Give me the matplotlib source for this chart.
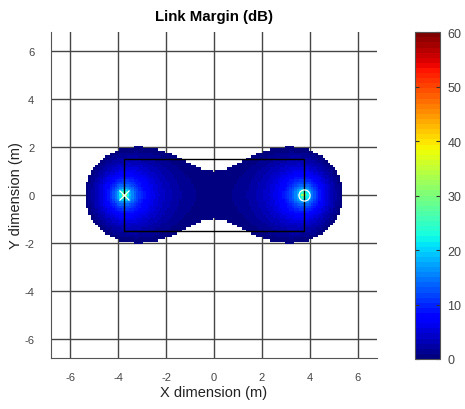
import numpy as np
import matplotlib
matplotlib.use("Agg")
import matplotlib.pyplot as plt
from matplotlib.patches import Rectangle

plt.rcParams['font.family'] = ['Liberation Sans', 'DejaVu Sans']
plt.rcParams['axes.unicode_minus'] = False

# scene
tx_pos = (-3.75, 0.0)          # transmitter (x marker)
rx_pos = (3.75, 0.0)           # receiver (o marker)
room = (-3.75, -1.5, 7.5, 3.0)  # x, y, width, height
grid_step = 0.1
lim = 6.8

# link budget: margin = K - 10*n*log10(d_tx * d_rx), 0 dB where d_tx*d_rx = 15.06
path_exp = 2.0
range_product = 15.06
cticks = [0, 10, 20, 30, 40, 50, 60]
ticks = [-6, -4, -2, 0, 2, 4, 6]

edges = np.arange(-lim + 0.05, lim, grid_step)
centers = (edges[:-1] + edges[1:]) / 2
X, Y = np.meshgrid(centers, centers)
d1 = np.hypot(X - tx_pos[0], Y - tx_pos[1])
d2 = np.hypot(X - rx_pos[0], Y - rx_pos[1])
margin = 10 * path_exp * np.log10(range_product / (d1 * d2))
margin = np.ma.masked_less(margin, 0)

fig = plt.figure(figsize=(4.65, 4.10), dpi=100)
ax = fig.add_axes([0.1097, 0.1244, 0.701, 0.795])
cax = fig.add_axes([0.892, 0.122, 0.0553, 0.797])

cmap = plt.get_cmap('jet', 64)
mesh = ax.pcolormesh(edges, edges, margin, cmap=cmap, vmin=0, vmax=60, zorder=1)

ax.add_patch(Rectangle(room[:2], room[2], room[3], fill=False,
                       edgecolor='black', linewidth=1.0, zorder=3))
ax.plot(*tx_pos, marker='x', color='white', markersize=7.5, mew=0.9, zorder=4)
ax.plot(*rx_pos, marker='o', mfc='none', mec='white', markersize=8, mew=0.9, zorder=4)

ax.set_xlim(-lim, lim)
ax.set_ylim(-lim, lim)
ax.set_xticks(ticks)
ax.set_yticks(ticks)
ax.set_axisbelow(True)
ax.grid(True, color='#454545', linewidth=1.0)
for s in ['top', 'right']:
    ax.spines[s].set_visible(False)
for s in ['left', 'bottom']:
    ax.spines[s].set_color('#555555')
ax.tick_params(length=0, labelsize=8, labelcolor='#444444')
ax.tick_params(axis='x', pad=10)
ax.tick_params(axis='y', pad=12)
ax.set_xlabel('X dimension (m)', fontsize=10.5, color='#222222', labelpad=2)
ax.set_ylabel('Y dimension (m)', fontsize=10.5, color='#222222', labelpad=1)
ax.set_title('Link Margin (dB)', fontsize=10.8, fontweight='bold', pad=9)

cb = fig.colorbar(mesh, cax=cax, ticks=cticks)
cb.outline.set_edgecolor('#555555')
cb.ax.tick_params(direction='in', left=True, right=True, length=3, pad=5,
                  labelsize=9, labelcolor='#444444', color='#333333')

fig.savefig('out.png', dpi=100)
